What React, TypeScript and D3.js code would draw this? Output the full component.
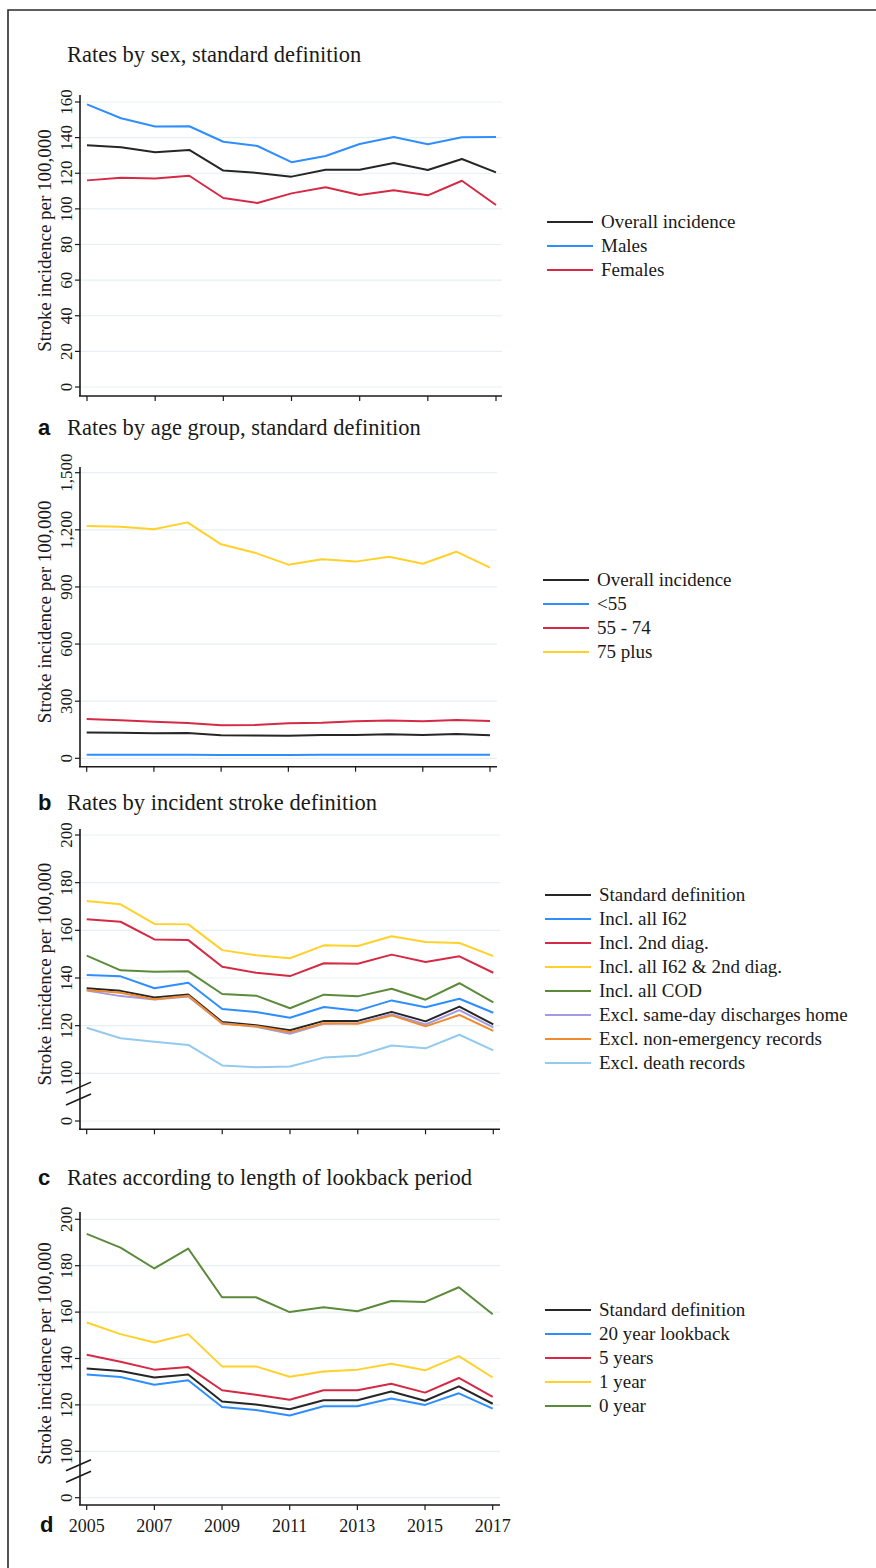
import React, { useEffect, useRef } from 'react';
import * as d3 from 'd3';

// years on the x axis
const years = [2005, 2006, 2007, 2008, 2009, 2010, 2011, 2012, 2013, 2014, 2015, 2016, 2017];
const xTickYears = [2005, 2007, 2009, 2011, 2013, 2015, 2017];

// panel: rates by sex
const overall = [135.7, 134.6, 131.8, 133.1, 121.5, 120.2, 118.1, 122.0, 122.0, 125.8, 121.8, 128.0, 120.5];
const males = [158.7, 150.9, 146.2, 146.4, 137.7, 135.3, 126.2, 129.7, 136.4, 140.4, 136.3, 140.2, 140.4];
const females = [116.0, 117.5, 117.0, 118.6, 106.1, 103.3, 108.7, 112.1, 107.8, 110.4, 107.6, 115.8, 102.2];

// panel a: rates by age group
const under55 = [18, 18, 18, 18, 17, 17, 17, 18, 18, 18, 18, 18, 18];
const age55to74 = [206, 200, 192, 185, 173, 175, 184, 187, 194, 199, 194, 201, 196];
const age75plus = [1220, 1216, 1203, 1239, 1124, 1080, 1017, 1045, 1033, 1059, 1022, 1085, 1001];

// panel b: rates by incident stroke definition
const inclI62 = [141.3, 140.7, 135.7, 138.0, 127.0, 125.7, 123.3, 127.8, 126.3, 130.6, 127.7, 131.3, 125.4];
const incl2nd = [164.6, 163.6, 156.2, 155.9, 144.7, 142.2, 140.8, 146.2, 146.0, 149.8, 146.7, 149.1, 142.2];
const inclI62And2nd = [172.3, 170.9, 162.7, 162.5, 151.7, 149.5, 148.3, 153.7, 153.4, 157.5, 155.1, 154.7, 149.2];
const inclCOD = [149.4, 143.2, 142.6, 142.8, 133.3, 132.6, 127.3, 133.0, 132.3, 135.5, 130.9, 137.8, 129.8];
const exclSameDay = [134.7, 132.4, 131.0, 132.2, 121.0, 119.5, 116.6, 120.8, 121.0, 124.8, 120.5, 126.5, 119.3];
const exclNonEmerg = [135.0, 133.8, 131.1, 132.6, 120.8, 119.8, 117.3, 121.0, 120.8, 124.3, 119.7, 124.5, 117.8];
const exclDeath = [119.1, 114.7, 113.3, 111.9, 103.3, 102.6, 102.9, 106.6, 107.4, 111.7, 110.5, 116.2, 109.6];

// panel c: lookback period
const lookback20 = [133.1, 132.0, 128.7, 130.6, 119.1, 117.8, 115.4, 119.4, 119.4, 122.8, 120.0, 125.0, 118.4];
const lookback5 = [141.6, 138.6, 135.2, 136.3, 126.3, 124.4, 122.2, 126.3, 126.3, 129.1, 125.3, 131.6, 123.5];
const lookback1 = [155.5, 150.5, 146.9, 150.5, 136.6, 136.6, 132.1, 134.4, 135.2, 137.7, 134.9, 141.0, 131.8];
const lookback0 = [193.7, 187.8, 178.8, 187.4, 166.4, 166.4, 160.0, 162.1, 160.4, 164.8, 164.4, 170.7, 159.1];

const C = {
  black: '#262626',
  blue: '#2f8eff',
  red: '#d52a46',
  yellow: '#ffd12a',
  green: '#5b8a3b',
  purple: '#a29be2',
  orange: '#f08a2e',
  light: '#93caf0',
};

interface Series { label: string; values: number[]; color: string }
interface Panel {
  letter: string;
  title: string;
  titleY: number;
  yDomain: [number, number];
  yRange: [number, number];
  yTicks: number[];
  tickFmt: (v: number) => string;
  axisY: number;
  axisTop: number;
  xRange: [number, number];
  right: number;
  broken: boolean;
  legendX: number;
  legendY: number;
  series: Series[];
}

const panels: Panel[] = [
  {
    letter: '', title: 'Rates by sex, standard definition', titleY: 62,
    yDomain: [0, 160], yRange: [387, 102], yTicks: [0, 20, 40, 60, 80, 100, 120, 140, 160],
    tickFmt: v => String(v), axisY: 396, axisTop: 95, xRange: [87, 496], right: 502, broken: false,
    legendX: 547, legendY: 222,
    series: [
      { label: 'Overall incidence', values: overall, color: C.black },
      { label: 'Males', values: males, color: C.blue },
      { label: 'Females', values: females, color: C.red },
    ],
  },
  {
    letter: 'a', title: 'Rates by age group, standard definition', titleY: 435,
    yDomain: [0, 1500], yRange: [758.3, 472.7], yTicks: [0, 300, 600, 900, 1200, 1500],
    tickFmt: d3.format(','), axisY: 766.7, axisTop: 467, xRange: [86.7, 490], right: 497, broken: false,
    legendX: 543, legendY: 580,
    series: [
      { label: 'Overall incidence', values: overall, color: C.black },
      { label: '<55', values: under55, color: C.blue },
      { label: '55 - 74', values: age55to74, color: C.red },
      { label: '75 plus', values: age75plus, color: C.yellow },
    ],
  },
  {
    letter: 'b', title: 'Rates by incident stroke definition', titleY: 810,
    yDomain: [80, 200], yRange: [1121, 835], yTicks: [80, 100, 120, 140, 160, 180, 200],
    tickFmt: v => (v === 80 ? '0' : String(v)), axisY: 1129.3, axisTop: 829, xRange: [86.7, 493.3], right: 500, broken: true,
    legendX: 545, legendY: 895,
    series: [
      { label: 'Standard definition', values: overall, color: C.black },
      { label: 'Incl. all I62', values: inclI62, color: C.blue },
      { label: 'Incl. 2nd diag.', values: incl2nd, color: C.red },
      { label: 'Incl. all I62 & 2nd diag.', values: inclI62And2nd, color: C.yellow },
      { label: 'Incl. all COD', values: inclCOD, color: C.green },
      { label: 'Excl. same-day discharges home', values: exclSameDay, color: C.purple },
      { label: 'Excl. non-emergency records', values: exclNonEmerg, color: C.orange },
      { label: 'Excl. death records', values: exclDeath, color: C.light },
    ],
  },
  {
    letter: 'c', title: 'Rates according to length of lookback period', titleY: 1185,
    yDomain: [80, 200], yRange: [1497.7, 1219.3], yTicks: [80, 100, 120, 140, 160, 180, 200],
    tickFmt: v => (v === 80 ? '0' : String(v)), axisY: 1505, axisTop: 1212, xRange: [86.7, 492.7], right: 500, broken: true,
    legendX: 545, legendY: 1310,
    series: [
      { label: 'Standard definition', values: overall, color: C.black },
      { label: '20 year lookback', values: lookback20, color: C.blue },
      { label: '5 years', values: lookback5, color: C.red },
      { label: '1 year', values: lookback1, color: C.yellow },
      { label: '0 year', values: lookback0, color: C.green },
    ],
  },
];

const serif = '"Liberation Serif", "Times New Roman", serif';
const sans = '"Liberation Sans", Arial, sans-serif';

const App: React.FC = () => {
  const ref = useRef<SVGSVGElement | null>(null);

  useEffect(() => {
    const svg = d3.select(ref.current);
    svg.selectAll('*').remove();

    // outer frame (top and left edges visible)
    svg.append('path')
      .attr('d', 'M8,1600 L8,10 L900,10')
      .attr('fill', 'none')
      .attr('stroke', '#2a2a2a')
      .attr('stroke-width', 1.6);

    panels.forEach((p, pi) => {
      const g = svg.append('g');
      const x = d3.scaleLinear().domain([2005, 2017]).range(p.xRange);
      const y = d3.scaleLinear().domain(p.yDomain).range(p.yRange);

      // title
      if (p.letter) {
        g.append('text')
          .attr('x', 38).attr('y', p.titleY)
          .attr('font-family', sans).attr('font-weight', 'bold').attr('font-size', 22)
          .attr('fill', '#111')
          .text(p.letter);
      }
      g.append('text')
        .attr('x', 67).attr('y', p.titleY)
        .attr('font-family', serif).attr('font-size', 22.5)
        .attr('fill', '#1a1a1a')
        .text(p.title);

      // grid
      g.selectAll('line.grid')
        .data(p.yTicks)
        .enter()
        .append('line')
        .attr('x1', 80).attr('x2', p.right)
        .attr('y1', d => y(d)).attr('y2', d => y(d))
        .attr('stroke', '#e6eff2')
        .attr('stroke-width', 1.2);

      // y axis
      g.append('line')
        .attr('x1', 80).attr('x2', 80)
        .attr('y1', p.axisTop).attr('y2', p.axisY)
        .attr('stroke', '#1a1a1a').attr('stroke-width', 1.6);
      g.selectAll('line.ytick')
        .data(p.yTicks)
        .enter()
        .append('line')
        .attr('x1', 75).attr('x2', 80)
        .attr('y1', d => y(d)).attr('y2', d => y(d))
        .attr('stroke', '#1a1a1a').attr('stroke-width', 1.2);
      g.selectAll('text.ytick')
        .data(p.yTicks)
        .enter()
        .append('text')
        .attr('transform', d => `translate(71.5,${y(d)}) rotate(-90)`)
        .attr('text-anchor', 'middle')
        .attr('font-family', serif).attr('font-size', 17)
        .attr('fill', '#1a1a1a')
        .text(d => p.tickFmt(d));

      // axis title
      const midY = (p.axisTop + p.axisY) / 2 - 5;
      g.append('text')
        .attr('transform', `translate(51,${midY}) rotate(-90)`)
        .attr('text-anchor', 'middle')
        .attr('font-family', serif).attr('font-size', 19)
        .attr('fill', '#1a1a1a')
        .text('Stroke incidence per 100,000');

      // axis break marks
      if (p.broken) {
        [94, 89].forEach(v => {
          g.append('line')
            .attr('x1', 66).attr('x2', 91)
            .attr('y1', y(v) + 5.5).attr('y2', y(v) - 5.5)
            .attr('stroke', '#1a1a1a').attr('stroke-width', 1.6);
        });
      }

      // x axis
      g.append('line')
        .attr('x1', 79).attr('x2', p.right)
        .attr('y1', p.axisY).attr('y2', p.axisY)
        .attr('stroke', '#1a1a1a').attr('stroke-width', 1.6);
      g.selectAll('line.xtick')
        .data(xTickYears)
        .enter()
        .append('line')
        .attr('x1', d => x(d)).attr('x2', d => x(d))
        .attr('y1', p.axisY).attr('y2', p.axisY + 5)
        .attr('stroke', '#1a1a1a').attr('stroke-width', 1.2);
      if (pi === panels.length - 1) {
        g.selectAll('text.xtick')
          .data(xTickYears)
          .enter()
          .append('text')
          .attr('x', d => x(d)).attr('y', p.axisY + 27)
          .attr('text-anchor', 'middle')
          .attr('font-family', serif).attr('font-size', 18)
          .attr('fill', '#1a1a1a')
          .text(d => String(d));
        g.append('text')
          .attr('x', 40).attr('y', p.axisY + 27)
          .attr('font-family', sans).attr('font-weight', 'bold').attr('font-size', 22)
          .attr('fill', '#111')
          .text('d');
      }

      // lines
      const line = d3.line<number>()
        .x((_, i) => x(years[i]))
        .y(d => y(d));
      p.series.forEach(s => {
        g.append('path')
          .datum(s.values)
          .attr('fill', 'none')
          .attr('stroke', s.color)
          .attr('stroke-width', 2)
          .attr('stroke-linejoin', 'round')
          .attr('d', line);
      });

      // legend
      p.series.forEach((s, i) => {
        const ly = p.legendY + i * 24;
        g.append('line')
          .attr('x1', p.legendX).attr('x2', p.legendX + 46)
          .attr('y1', ly).attr('y2', ly)
          .attr('stroke', s.color).attr('stroke-width', 2.2);
        g.append('text')
          .attr('x', p.legendX + 54).attr('y', ly)
          .attr('dy', '0.33em')
          .attr('font-family', serif).attr('font-size', 19)
          .attr('fill', '#1a1a1a')
          .text(s.label);
      });
    });
  }, []);

  return (
    <svg
      ref={ref}
      width={876}
      height={1568}
      style={{ position: 'absolute', left: 0, top: 0, background: '#fff' }}
    />
  );
};

export default App;
